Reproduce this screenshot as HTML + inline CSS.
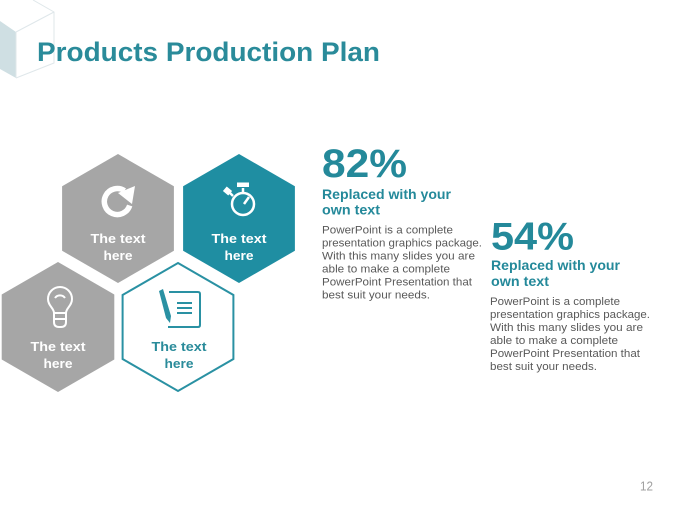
<!DOCTYPE html>
<html><head><meta charset="utf-8"><style>
html,body{margin:0;padding:0;background:#fff;}
svg{display:block;}
text{font-family:"Liberation Sans",sans-serif;}
</style></head><body>
<svg width="680" height="510" viewBox="0 0 680 510" xmlns="http://www.w3.org/2000/svg">
<rect width="680" height="510" fill="#fff"/>
<!-- cube decoration -->
<polygon points="0,21 16,32 16,78 0,69" fill="#cfdfe3"/>
<polyline points="33,0 54,12 54,63 16,78" fill="none" stroke="#dfe7ea" stroke-width="1"/>
<line x1="16" y1="32" x2="54" y2="12" stroke="#dfe7ea" stroke-width="1"/>
<line x1="16" y1="32" x2="16" y2="78" stroke="#dfe7ea" stroke-width="1"/>

<!-- title -->
<text x="37" y="61" font-size="27" font-weight="bold" fill="#2a8b9a" textLength="343" lengthAdjust="spacingAndGlyphs">Products Production Plan</text>

<!-- hexagons -->
<polygon points="118,154 173.9,186.25 173.9,250.75 118,283 62.1,250.75 62.1,186.25" fill="#a6a6a6"/>
<polygon points="239,154 294.9,186.25 294.9,250.75 239,283 183.1,250.75 183.1,186.25" fill="#1f8ea2"/>
<polygon points="58,262 114.3,294.5 114.3,359.5 58,392 1.7,359.5 1.7,294.5" fill="#a6a6a6"/>
<polygon points="178,263 233.4,295 233.4,359 178,391 122.6,359 122.6,295" fill="#fff" stroke="#2a91a3" stroke-width="2"/>

<!-- refresh icon -->
<path d="M124.5,190.7 A13,13 0 1 0 129.7,205.5" fill="none" stroke="#fff" stroke-width="5.5"/>
<polygon points="118,193 135,186 132,204" fill="#fff"/>

<!-- stopwatch icon -->
<g fill="none" stroke="#fff" stroke-width="2.5">
<circle cx="243" cy="204" r="11"/>
<line x1="243" y1="193" x2="243" y2="188"/>
<line x1="244" y1="204" x2="249" y2="197"/>
<line x1="233" y1="196" x2="230" y2="193"/>
</g>
<rect x="237" y="182.5" width="12" height="4.5" fill="#fff"/>
<rect x="224" y="188" width="7" height="6" fill="#fff" transform="rotate(40 227.5 191)"/>

<!-- lightbulb icon -->
<g fill="none" stroke="#fff" stroke-width="2">
<path d="M54,313 C54,308 48,306 48,299 A12,12 0 1 1 72,299 C72,306 66,308 66,313 Z"/>
<path d="M55,298 A6,6 0 0 1 65,298"/>
<path d="M54,313 L54,322 Q54,327 59,327 L61,327 Q66,327 66,322 L66,313"/>
<line x1="54" y1="319" x2="66" y2="319"/>
</g>

<!-- notebook icon -->
<g fill="none" stroke="#2a91a3" stroke-width="2">
<path d="M169,292 L198,292 Q200,292 200,294 L200,325 Q200,327 198,327 L168,327"/>
<line x1="177" y1="303" x2="192" y2="303"/>
<line x1="177" y1="308" x2="192" y2="308"/>
<line x1="177" y1="313" x2="192" y2="313"/>
</g>
<path d="M159,291 L163,289 L171,316 L170,323 L166,318 Z" fill="#2a91a3"/>

<!-- hex texts -->
<g font-weight="bold" font-size="13" text-anchor="middle">
<text x="118" y="243" fill="#fff" textLength="55" lengthAdjust="spacingAndGlyphs">The text</text>
<text x="118" y="260" fill="#fff" textLength="29" lengthAdjust="spacingAndGlyphs">here</text>
<text x="239" y="243" fill="#fff" textLength="55" lengthAdjust="spacingAndGlyphs">The text</text>
<text x="239" y="260" fill="#fff" textLength="29" lengthAdjust="spacingAndGlyphs">here</text>
<text x="58" y="351" fill="#fff" textLength="55" lengthAdjust="spacingAndGlyphs">The text</text>
<text x="58" y="368" fill="#fff" textLength="29" lengthAdjust="spacingAndGlyphs">here</text>
<text x="179" y="351" fill="#2a8b9a" textLength="55" lengthAdjust="spacingAndGlyphs">The text</text>
<text x="179" y="368" fill="#2a8b9a" textLength="29" lengthAdjust="spacingAndGlyphs">here</text>
</g>

<!-- block 1 -->
<text x="322" y="177" font-size="40" font-weight="bold" fill="#24899a" textLength="85" lengthAdjust="spacingAndGlyphs">82%</text>
<text x="322" y="199" font-size="14" font-weight="bold" fill="#24899a" textLength="129" lengthAdjust="spacingAndGlyphs">Replaced with your</text>
<text x="322" y="214.5" font-size="14" font-weight="bold" fill="#24899a" textLength="58" lengthAdjust="spacingAndGlyphs">own text</text>
<g font-size="11" fill="#595959">
<text x="322" y="233.5" textLength="131" lengthAdjust="spacingAndGlyphs">PowerPoint is a complete</text>
<text x="322" y="246.5" textLength="160" lengthAdjust="spacingAndGlyphs">presentation graphics package.</text>
<text x="322" y="259.5" textLength="153" lengthAdjust="spacingAndGlyphs">With this many slides you are</text>
<text x="322" y="272.5" textLength="128" lengthAdjust="spacingAndGlyphs">able to make a complete</text>
<text x="322" y="285.5" textLength="150" lengthAdjust="spacingAndGlyphs">PowerPoint Presentation that</text>
<text x="322" y="298.5" textLength="108" lengthAdjust="spacingAndGlyphs">best suit your needs.</text>
</g>

<!-- block 2 -->
<text x="491" y="249.5" font-size="39" font-weight="bold" fill="#24899a" textLength="83" lengthAdjust="spacingAndGlyphs">54%</text>
<text x="491" y="270" font-size="14" font-weight="bold" fill="#24899a" textLength="129" lengthAdjust="spacingAndGlyphs">Replaced with your</text>
<text x="491" y="286" font-size="14" font-weight="bold" fill="#24899a" textLength="58" lengthAdjust="spacingAndGlyphs">own text</text>
<g font-size="11" fill="#595959">
<text x="490" y="305" textLength="130" lengthAdjust="spacingAndGlyphs">PowerPoint is a complete</text>
<text x="490" y="318" textLength="160" lengthAdjust="spacingAndGlyphs">presentation graphics package.</text>
<text x="490" y="331" textLength="153" lengthAdjust="spacingAndGlyphs">With this many slides you are</text>
<text x="490" y="344" textLength="128" lengthAdjust="spacingAndGlyphs">able to make a complete</text>
<text x="490" y="357" textLength="150" lengthAdjust="spacingAndGlyphs">PowerPoint Presentation that</text>
<text x="490" y="370" textLength="107" lengthAdjust="spacingAndGlyphs">best suit your needs.</text>
</g>

<!-- page number -->
<text x="640" y="490.5" font-size="13" fill="#a0a0a0" textLength="13" lengthAdjust="spacingAndGlyphs">12</text>
</svg>
</body></html>
